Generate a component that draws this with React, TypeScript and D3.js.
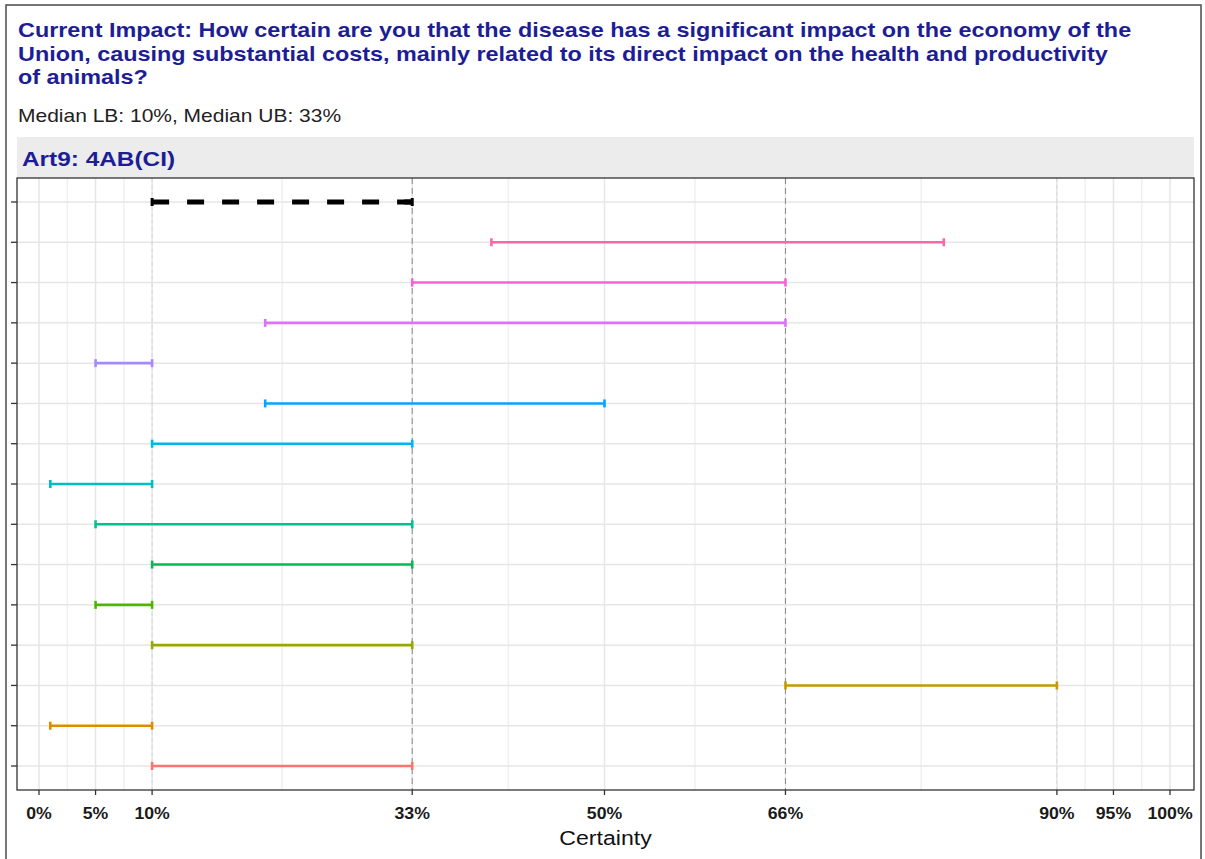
import React from "react";
import * as d3 from "d3";

// expert ranges, listed bottom to top (expert 1 at the bottom)
const experts = ["E1", "E2", "E3", "E4", "E5", "E6", "E7", "E8", "E9", "E10", "E11", "E12", "E13", "E14"];
const lowerBounds = [10, 1, 66, 10, 5, 10, 5, 1, 10, 20, 5, 20, 33, 40];
const upperBounds = [33, 10, 90, 33, 10, 33, 33, 10, 33, 50, 10, 66, 66, 80];

const medianLB = 10;
const medianUB = 33;

const tickValues = [0, 5, 10, 33, 50, 66, 90, 95, 100];
const minorValues = [2.5, 7.5, 21.5, 41.5, 58, 78, 92.5, 97.5];
const dashedStrong = [33, 66];
const dashedFaint = [10, 90];

const titleLines = [
  "Current Impact: How certain are you that the disease has a significant impact on the economy of the",
  "Union, causing substantial costs, mainly related to its direct impact on the health and productivity",
  "of animals?",
];
const subtitle = `Median LB: ${medianLB}%, Median UB: ${medianUB}%`;
const stripLabel = "Art9: 4AB(CI)";

// ggplot default hue palette for 14 levels
const palette = [
  "#F8766D", "#E38900", "#C49A00", "#99A800", "#53B400", "#00BC56", "#00C094",
  "#00BFC4", "#00B6EB", "#06A4FF", "#A58AFF", "#DF70F8", "#FB61D7", "#FF66A8",
];

export default function App() {
  const W = 1205;
  const H = 859;
  const panel = { left: 17, right: 1194, top: 178, bottom: 790 };

  const x = d3.scaleLinear().domain([0, 100]).range([39, 1170]);
  const rows = ["median", ...experts.slice().reverse()];
  const y = d3.scalePoint<string>().domain(rows).range([202, 766]);
  const color = d3.scaleOrdinal<string, string>().domain(experts).range(palette);

  const navy = "#1d1d96";
  const font = "'Liberation Sans', Arial, sans-serif";
  const cap = 4;
  const sx = 1.2; // the reference text is stretched horizontally

  return (
    <div style={{ position: "absolute", left: 0, top: 0 }}>
      <svg width={W} height={H} style={{ display: "block", background: "#fff" }}>
        <rect x={6} y={5} width={1195} height={870} fill="#fff" stroke="#4a4a4a" strokeWidth={1.5} />

        {titleLines.map((t, i) => (
          <text key={i} transform={`translate(18,${37 + i * 23.5}) scale(${sx},1)`} fill={navy} fontFamily={font} fontWeight="bold" fontSize={19.5}>
            {t}
          </text>
        ))}
        <text transform={`translate(18,122) scale(${sx},1)`} fill="#222" fontFamily={font} fontSize={17.5}>
          {subtitle}
        </text>

        {/* strip */}
        <rect x={panel.left} y={137} width={panel.right - panel.left} height={41} fill="#ececec" />
        <text transform={`translate(22,166) scale(1.22,1)`} fill={navy} fontFamily={font} fontWeight="bold" fontSize={20}>
          {stripLabel}
        </text>

        {/* panel background and grid */}
        <rect x={panel.left} y={panel.top} width={panel.right - panel.left} height={panel.bottom - panel.top} fill="#fff" />
        {minorValues.map((v) => (
          <line key={"mi" + v} x1={x(v)} x2={x(v)} y1={panel.top} y2={panel.bottom} stroke="#f0f0f0" strokeWidth={1.5} />
        ))}
        {tickValues.map((v) => (
          <line key={"ma" + v} x1={x(v)} x2={x(v)} y1={panel.top} y2={panel.bottom} stroke="#e6e6e6" strokeWidth={1.5} />
        ))}
        {rows.map((r) => (
          <line key={"h" + r} x1={panel.left} x2={panel.right} y1={y(r)} y2={y(r)} stroke="#e6e6e6" strokeWidth={1.5} />
        ))}
        {dashedFaint.map((v) => (
          <line key={"df" + v} x1={x(v)} x2={x(v)} y1={panel.top} y2={panel.bottom} stroke="#d8d8d8" strokeWidth={1} strokeDasharray="4,3" />
        ))}
        {dashedStrong.map((v) => (
          <line key={"ds" + v} x1={x(v)} x2={x(v)} y1={panel.top} y2={panel.bottom} stroke="#8a8a8a" strokeWidth={1} strokeDasharray="6,4" />
        ))}

        {/* expert error bars */}
        {experts.map((e, i) => {
          const yy = y(e)!;
          const x1 = x(lowerBounds[i]);
          const x2 = x(upperBounds[i]);
          return (
            <g key={e} stroke={color(e)} strokeWidth={2.6}>
              <line x1={x1} x2={x2} y1={yy} y2={yy} />
              <line x1={x1} x2={x1} y1={yy - cap} y2={yy + cap} />
              <line x1={x2} x2={x2} y1={yy - cap} y2={yy + cap} />
            </g>
          );
        })}

        {/* median range */}
        <g stroke="#000">
          <line x1={x(medianLB)} x2={x(medianUB)} y1={y("median")} y2={y("median")} strokeWidth={5} strokeDasharray="17,18" />
          <line x1={x(medianLB)} x2={x(medianLB)} y1={y("median")! - 4} y2={y("median")! + 4} strokeWidth={3} />
          <line x1={x(medianUB)} x2={x(medianUB)} y1={y("median")! - 4} y2={y("median")! + 4} strokeWidth={3} />
          <line x1={x(medianUB) - 8} x2={x(medianUB)} y1={y("median")} y2={y("median")} strokeWidth={5} />
        </g>

        <rect x={panel.left} y={panel.top} width={panel.right - panel.left} height={panel.bottom - panel.top} fill="none" stroke="#333" strokeWidth={1.3} />

        {/* axes ticks */}
        {rows.map((r) => (
          <line key={"yt" + r} x1={panel.left - 6} x2={panel.left} y1={y(r)} y2={y(r)} stroke="#333" strokeWidth={1.3} />
        ))}
        {tickValues.map((v) => (
          <g key={"xt" + v}>
            <line x1={x(v)} x2={x(v)} y1={panel.bottom} y2={panel.bottom + 5} stroke="#333" strokeWidth={1.3} />
            <text transform={`translate(${x(v)},819) scale(1.04,1)`} textAnchor="middle" fill="#1a1a1a" fontFamily={font} fontWeight="bold" fontSize={17}>
              {v}%
            </text>
          </g>
        ))}
        <text transform={`translate(${(panel.left + panel.right) / 2},845) scale(1.1,1)`} textAnchor="middle" fill="#111" fontFamily={font} fontSize={21}>
          Certainty
        </text>
      </svg>
    </div>
  );
}
